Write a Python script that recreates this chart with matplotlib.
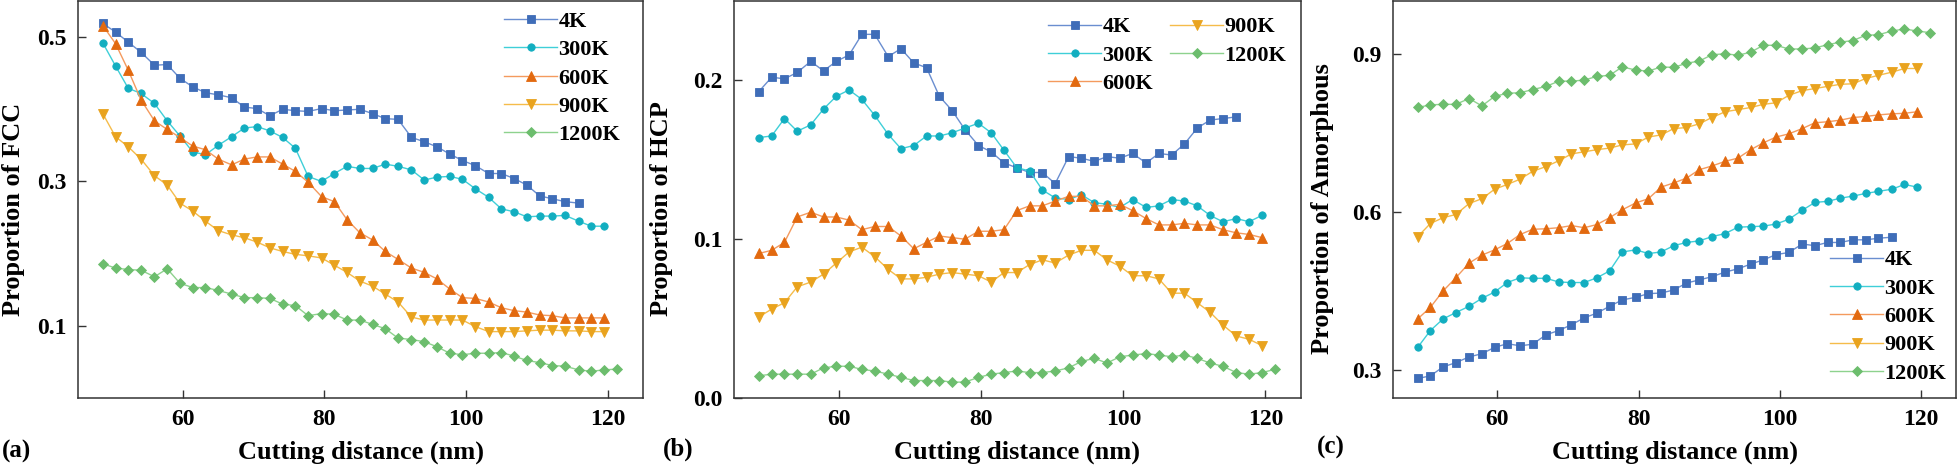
# encoding:utf-8
import matplotlib
matplotlib.use('Agg')
import matplotlib.pyplot as plt

plt.rcParams['font.family'] = ['Liberation Serif', 'DejaVu Serif']
plt.rcParams['font.weight'] = 'bold'
plt.rcParams['axes.labelweight'] = 'bold'

# 切削距离 (nm)，各温度共用
dist = [48.7, 50.5, 52.3, 54.1, 56.0, 57.8, 59.6, 61.4, 63.2, 65.0,
        66.9, 68.7, 70.5, 72.3, 74.1, 75.9, 77.7, 79.6, 81.4, 83.2,
        85.0, 86.8, 88.6, 90.4, 92.3, 94.1, 95.9, 97.7, 99.5, 101.3,
        103.2, 105.0, 106.8, 108.6, 110.4, 112.2, 114.0, 115.9, 117.7, 119.5,
        121.3]

temps = ['4K', '300K', '600K', '900K', '1200K']

# (a) FCC
fcc_4k = [0.519, 0.507, 0.493, 0.479, 0.461, 0.462, 0.443, 0.431, 0.423, 0.420,
          0.416, 0.403, 0.401, 0.391, 0.400, 0.398, 0.397, 0.401, 0.398, 0.399,
          0.400, 0.394, 0.387, 0.386, 0.361, 0.355, 0.348, 0.338, 0.329, 0.322,
          0.311, 0.311, 0.304, 0.295, 0.280, 0.276, 0.272, 0.270]
fcc_300k = [0.492, 0.460, 0.429, 0.422, 0.408, 0.384, 0.363, 0.341, 0.337, 0.350,
            0.362, 0.374, 0.376, 0.370, 0.361, 0.346, 0.307, 0.300, 0.311, 0.321,
            0.318, 0.318, 0.324, 0.321, 0.316, 0.302, 0.306, 0.307, 0.303, 0.290,
            0.278, 0.262, 0.258, 0.251, 0.252, 0.252, 0.253, 0.245, 0.238, 0.238]
fcc_600k = [0.516, 0.491, 0.454, 0.413, 0.384, 0.372, 0.361, 0.349, 0.344, 0.331,
            0.323, 0.331, 0.334, 0.334, 0.324, 0.314, 0.299, 0.279, 0.272, 0.247,
            0.229, 0.219, 0.203, 0.192, 0.180, 0.174, 0.165, 0.151, 0.139, 0.138,
            0.133, 0.125, 0.121, 0.119, 0.115, 0.114, 0.111, 0.111, 0.111, 0.111]
fcc_900k = [0.394, 0.362, 0.348, 0.331, 0.308, 0.295, 0.270, 0.259, 0.245, 0.232,
            0.226, 0.222, 0.216, 0.208, 0.203, 0.199, 0.197, 0.194, 0.184, 0.174,
            0.162, 0.155, 0.144, 0.133, 0.112, 0.108, 0.108, 0.108, 0.108, 0.099,
            0.092, 0.092, 0.092, 0.093, 0.094, 0.094, 0.093, 0.093, 0.092, 0.092]
fcc_1200k = [0.186, 0.180, 0.178, 0.177, 0.168, 0.179, 0.159, 0.153, 0.153, 0.149,
             0.144, 0.139, 0.139, 0.138, 0.130, 0.128, 0.114, 0.117, 0.116, 0.108,
             0.108, 0.102, 0.096, 0.083, 0.081, 0.078, 0.071, 0.062, 0.060, 0.062,
             0.062, 0.063, 0.058, 0.052, 0.049, 0.045, 0.044, 0.039, 0.037, 0.039,
             0.040]

# (b) HCP
hcp_4k = [0.193, 0.202, 0.201, 0.205, 0.212, 0.206, 0.212, 0.216, 0.229, 0.229,
          0.215, 0.220, 0.211, 0.208, 0.190, 0.181, 0.169, 0.159, 0.155, 0.148,
          0.145, 0.142, 0.142, 0.135, 0.152, 0.151, 0.149, 0.152, 0.151, 0.154,
          0.148, 0.154, 0.153, 0.160, 0.170, 0.175, 0.176, 0.177]
hcp_300k = [0.164, 0.165, 0.176, 0.168, 0.172, 0.182, 0.190, 0.194, 0.188, 0.178,
            0.166, 0.157, 0.159, 0.165, 0.165, 0.167, 0.170, 0.173, 0.167, 0.156,
            0.145, 0.143, 0.131, 0.126, 0.125, 0.128, 0.123, 0.122, 0.120, 0.125,
            0.120, 0.121, 0.125, 0.124, 0.121, 0.115, 0.111, 0.113, 0.111, 0.115]
hcp_600k = [0.091, 0.093, 0.098, 0.114, 0.117, 0.114, 0.114, 0.112, 0.106, 0.108,
            0.108, 0.102, 0.094, 0.098, 0.102, 0.101, 0.100, 0.105, 0.105, 0.106,
            0.118, 0.121, 0.121, 0.124, 0.127, 0.127, 0.121, 0.121, 0.122, 0.118,
            0.113, 0.109, 0.109, 0.110, 0.109, 0.109, 0.106, 0.104, 0.103, 0.101]
hcp_900k = [0.051, 0.056, 0.060, 0.070, 0.073, 0.078, 0.085, 0.092, 0.095, 0.089,
            0.081, 0.075, 0.075, 0.076, 0.078, 0.079, 0.078, 0.077, 0.073, 0.079,
            0.079, 0.084, 0.087, 0.085, 0.090, 0.093, 0.093, 0.087, 0.083, 0.077,
            0.077, 0.075, 0.066, 0.066, 0.060, 0.054, 0.046, 0.039, 0.037, 0.033]
hcp_1200k = [0.014, 0.015, 0.015, 0.015, 0.015, 0.019, 0.020, 0.020, 0.018, 0.017,
             0.015, 0.013, 0.011, 0.011, 0.011, 0.010, 0.010, 0.013, 0.015, 0.016,
             0.017, 0.016, 0.016, 0.017, 0.019, 0.023, 0.025, 0.022, 0.026, 0.027,
             0.028, 0.027, 0.026, 0.027, 0.025, 0.022, 0.020, 0.016, 0.015, 0.016,
             0.018]

# (c) Amorphous
amo_4k = [0.284, 0.289, 0.306, 0.314, 0.325, 0.331, 0.343, 0.350, 0.346, 0.349,
          0.367, 0.375, 0.386, 0.399, 0.408, 0.421, 0.433, 0.438, 0.445, 0.446,
          0.452, 0.465, 0.471, 0.477, 0.486, 0.492, 0.501, 0.509, 0.519, 0.523,
          0.539, 0.536, 0.542, 0.542, 0.547, 0.547, 0.550, 0.552]
amo_300k = [0.343, 0.375, 0.397, 0.409, 0.421, 0.436, 0.448, 0.466, 0.475, 0.474,
            0.474, 0.467, 0.466, 0.466, 0.475, 0.488, 0.524, 0.528, 0.521, 0.524,
            0.536, 0.542, 0.545, 0.553, 0.559, 0.571, 0.572, 0.573, 0.577, 0.586,
            0.603, 0.618, 0.620, 0.626, 0.630, 0.635, 0.639, 0.643, 0.652, 0.647]
amo_600k = [0.397, 0.419, 0.450, 0.475, 0.503, 0.518, 0.528, 0.540, 0.557, 0.567,
            0.568, 0.570, 0.574, 0.570, 0.576, 0.589, 0.604, 0.617, 0.625, 0.647,
            0.655, 0.664, 0.680, 0.687, 0.696, 0.702, 0.718, 0.731, 0.742, 0.748,
            0.758, 0.769, 0.771, 0.774, 0.779, 0.781, 0.784, 0.786, 0.787, 0.790]
amo_900k = [0.553, 0.578, 0.589, 0.595, 0.616, 0.625, 0.643, 0.652, 0.662, 0.677,
            0.686, 0.697, 0.710, 0.714, 0.718, 0.721, 0.727, 0.729, 0.742, 0.746,
            0.758, 0.760, 0.767, 0.779, 0.790, 0.794, 0.798, 0.804, 0.807, 0.821,
            0.830, 0.834, 0.838, 0.842, 0.843, 0.853, 0.859, 0.865, 0.872, 0.872]
amo_1200k = [0.798, 0.803, 0.804, 0.804, 0.815, 0.801, 0.819, 0.825, 0.826, 0.832,
             0.838, 0.848, 0.848, 0.850, 0.857, 0.859, 0.875, 0.869, 0.867, 0.875,
             0.874, 0.882, 0.886, 0.898, 0.900, 0.897, 0.903, 0.916, 0.916, 0.909,
             0.909, 0.911, 0.917, 0.922, 0.925, 0.935, 0.936, 0.943, 0.947, 0.943,
             0.940]

# 样式：标记颜色, 线颜色, 标记
marker_colors = ['#3F6DB8', '#12AEC0', '#E2690F', '#E9A31E', '#6CBD6D']
line_colors = ['#6A8ED0', '#3FCFD8', '#F49A5E', '#F5BC4A', '#8ED28E']
markers = ['s', 'o', '^', 'v', 'D']
msizes = [5.3, 5.3, 6.5, 6.5, 5.3]


def draw_panel(ax, series, ylabel, ylim, yticks, ytick_fmt, label_x):
    for k in range(len(series)):
        y = series[k]
        ax.plot(dist[:len(y)], y, color=line_colors[k], lw=1.0,
                marker=markers[k], ms=msizes[k], mfc=marker_colors[k],
                mec=marker_colors[k], mew=0.6, label=temps[k])
    ax.set_xlim(45.2, 125.0)
    ax.set_ylim(ylim)
    ax.set_xticks([60, 80, 100, 120])
    ax.set_yticks(yticks)
    ax.set_yticklabels([ytick_fmt % v for v in yticks])
    ax.tick_params(direction='in', length=6, width=1.0, labelsize=17,
                   pad=8, top=False, right=False, color='#333333')
    for s in ax.spines.values():
        s.set_linewidth(1.1)
        s.set_color('#333333')
    ax.set_xlabel('Cutting distance (nm)', fontsize=19)
    ax.xaxis.set_label_coords(0.5, -0.136)
    ax.xaxis.label.set_verticalalignment('center')
    ax.set_ylabel(ylabel, fontsize=19)
    ax.yaxis.set_label_coords(label_x, 0.476)
    ax.yaxis.label.set_verticalalignment('center')


fig = plt.figure(figsize=(19.57, 4.70), dpi=100)
W, H = 1957.0, 470.0
ax1 = fig.add_axes([78 / W, 1 - 398 / H, 565 / W, 397 / H])
ax2 = fig.add_axes([734 / W, 1 - 398 / H, 567 / W, 397 / H])
ax3 = fig.add_axes([1393 / W, 1 - 398 / H, 563 / W, 397 / H])

draw_panel(ax1, [fcc_4k, fcc_300k, fcc_600k, fcc_900k, fcc_1200k],
           'Proportion of FCC', (0.0, 0.55), [0.1, 0.3, 0.5], '%.1f', -0.115)
draw_panel(ax2, [hcp_4k, hcp_300k, hcp_600k, hcp_900k, hcp_1200k],
           'Proportion of HCP', (0.0, 0.25), [0.0, 0.1, 0.2], '%.1f', -0.127)
draw_panel(ax3, [amo_4k, amo_300k, amo_600k, amo_900k, amo_1200k],
           'Proportion of Amorphous', (0.247, 1.0), [0.3, 0.6, 0.9], '%.1f', -0.126)

leg_font = {'weight': 'bold', 'size': 16}
ax1.legend(loc='upper left', bbox_to_anchor=(0.754, 0.974), frameon=False,
           prop=leg_font, handlelength=2.4, handletextpad=0.05,
           labelspacing=0.35, borderpad=0, borderaxespad=0, numpoints=1)
ax2.legend(loc='upper left', bbox_to_anchor=(0.554, 0.96), frameon=False,
           prop=leg_font, ncol=2, handlelength=2.4, handletextpad=0.05,
           labelspacing=0.35, columnspacing=0.75, borderpad=0, borderaxespad=0,
           numpoints=1)
ax3.legend(loc='lower left', bbox_to_anchor=(0.776, 0.036), frameon=False,
           prop=leg_font, handlelength=2.4, handletextpad=0.05,
           labelspacing=0.35, borderpad=0, borderaxespad=0, numpoints=1)

# 子图编号
fig.text(2 / W, 1 - 451 / H, '(a)', fontsize=18, fontweight='bold', va='center', ha='left')
fig.text(663 / W, 1 - 449 / H, '(b)', fontsize=18, fontweight='bold', va='center', ha='left')
fig.text(1317 / W, 1 - 447 / H, '(c)', fontsize=18, fontweight='bold', va='center', ha='left')

fig.savefig('out.png', dpi=100)
